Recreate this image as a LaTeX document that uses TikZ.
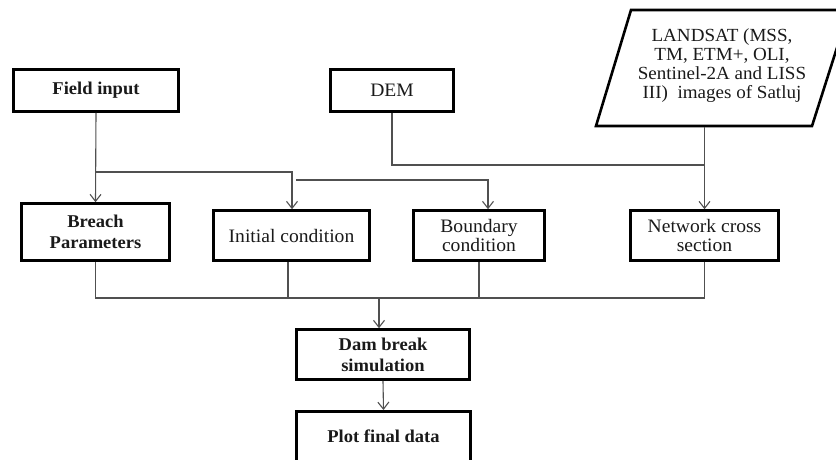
\documentclass[tikz,border=0pt]{standalone}
\usepackage{fontspec}
\setmainfont[FakeStretch=1.03]{Liberation Serif}
\usetikzlibrary{arrows.meta}
\definecolor{conncol}{HTML}{505050}
\definecolor{txtcol}{HTML}{1A1A1A}
\begin{document}
\begin{tikzpicture}[x=1pt,y=-1pt,
  box/.style={draw=black, line width=2.6pt, rectangle, inner sep=0pt, align=center, text=txtcol},
  reg/.style={font=\fontsize{19}{19.5}\selectfont},
  bld/.style={font=\fontsize{18}{21}\selectfont\bfseries},
  conn/.style={draw=conncol, line width=1.1pt},
  arr/.style={conn, -{Straight Barb[length=7pt,width=11pt]}}]
\clip (0,0) rectangle (836,459);
\fill[white] (0,0) rectangle (836,459);
% boxes
\node[box, bld, minimum width=165, minimum height=42] (field) at (96,90.5) {Field input};
\node[box, reg, minimum width=123, minimum height=42] (dem) at (392,90.5) {DEM};
\draw[line width=2.6pt, line join=miter] (631,10) -- (849,10) -- (812,126) -- (596,126) -- cycle;
\node[align=center, text=txtcol, font=\fontsize{18.5}{19}\selectfont, inner sep=0pt] (landsat) at (722,66)
  {LANDSAT (MSS,\\ TM, ETM+, OLI,\\ Sentinel-2A and LISS\\ III)\ \ images of Satluj};
\coordinate (landsatb) at (704.5,127);
\node[box, bld, minimum width=148, minimum height=57] (breach) at (95.5,232) {Breach\\ Parameters};
\node[box, reg, minimum width=156, minimum height=50] (initial) at (291.5,235.5) {Initial condition};
\node[box, reg, minimum width=131, minimum height=50] (boundary) at (479,235.5) {Boundary\\ condition};
\node[box, reg, minimum width=148, minimum height=50] (network) at (704.5,235.5) {Network cross\\ section};
\node[box, bld, minimum width=173, minimum height=50] (dam) at (383,354.5) {Dam break\\ simulation};
\node[box, bld, minimum width=174, minimum height=80, text depth=0pt] (plot) at (383.5,451.3) {};
\node[text=txtcol, bld, inner sep=0pt] (plottext) at (383.5,436) {Plot final data};
% connectors top
\coordinate (j1) at (96,172);
\coordinate (f0) at (296,180);
\coordinate (j2) at (704.5,165);
\draw[arr] (field.south) -- (breach.north);
\draw[arr] (j1) -| ([xshift=0.5pt]initial.north);
\draw[arr] (f0) -| ([xshift=9pt]boundary.north);
\draw[conn] (dem.south) |- (j2);
\draw[arr] (landsatb) -- (network.north);
% bottom bus
\coordinate (busR) at (704.5,298);
\coordinate (d0) at (379,298);
\draw[conn] (breach.south) |- (busR) -- (network.south);
\draw[conn] ([xshift=-3.5pt]initial.south) -- ([xshift=-3.5pt]initial.south |- busR);
\draw[conn] (boundary.south) -- (boundary.south |- busR);
\draw[arr] (d0) -- (d0 |- dam.north);
\draw[arr] (dam.south) -- (plot.north);
\end{tikzpicture}
\end{document}
